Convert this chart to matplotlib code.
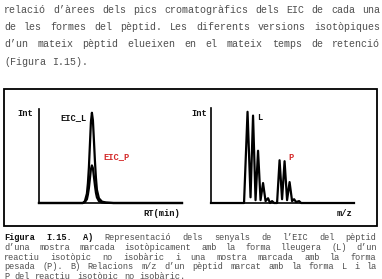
import matplotlib
matplotlib.use('Agg')
import matplotlib.pyplot as plt
from matplotlib.patches import Rectangle

W, H = 382, 279
FONT = 'Liberation Mono'
TEXT_COLOR = '#4e4e4e'
RED = '#d42a2a'

# body paragraph above the figure
para_lines = [
    'relació d’àrees dels pics cromatogràfics dels EIC de cada una',
    'de les formes del pèptid. Les diferents versions isotòpiques',
    'd’un mateix pèptid elueixen en el mateix temps de retenció',
    '(Figura I.15).',
]

caption_lines = [
    'Figura I.15. A) Representació dels senyals de l’EIC del pèptid',
    'd’una mostra marcada isotòpicament amb la forma lleugera (L) d’un',
    'reactiu isotòpic no isobàric i una mostra marcada amb la forma',
    'pesada (P). B) Relacions m/z d’un pèptid marcat amb la forma L i la',
    'P del reactiu isotòpic no isobàric.',
]
caption_bold_words = 3  # "Figura", "I.15.", "A)"

# A) extracted ion chromatograms
rt = [0.0, 2.6, 3.07, 3.21, 3.35, 3.42, 3.49, 3.56, 3.63, 3.70, 3.77, 3.84,
      3.91, 3.98, 4.05, 4.19, 4.40, 4.68, 5.2, 10.0]
eic_l = [0, 0, 0, 2, 10, 21, 38, 62, 86, 96, 88, 67, 45, 27, 14, 5, 1.5, 0.5, 0, 0]
eic_p = [0, 0, 0, 1, 4, 9, 16, 26, 36, 40, 37, 28, 19, 11, 6, 2, 0.6, 0.2, 0, 0]

# B) mass spectrum (L and P isotopic clusters)
mz = [0.0, 23.1, 25.55, 27.65, 29.4, 31.15, 32.9, 34.65, 36.4, 38.15, 39.9,
      41.3, 42.7, 44.1, 46.2, 47.95, 49.7, 51.45, 53.2, 54.95, 56.7, 58.1,
      59.5, 61.6, 63.0, 100.0]
intensity = [0, 0, 96, 6, 92, 3, 55, 3, 21, 2, 5, 0, 2, 0, 0, 45, 4, 44, 3,
             22, 2, 4, 1, 2, 0, 0]

fig = plt.figure(figsize=(W / 100, H / 100), dpi=100)

# page overlay in pixel coordinates
page = fig.add_axes([0, 0, 1, 1])
page.set_xlim(0, W)
page.set_ylim(H, 0)
page.axis('off')


def justified(ax, line, y, x0, x1, size_pt, justify=True, bold_words=0):
    char_w = size_pt * 100 / 72 * 0.6
    words = line.split(' ')
    n_chars = sum(len(w) for w in words)
    if justify and len(words) > 1:
        gap = (x1 - x0 - n_chars * char_w) / (len(words) - 1)
    else:
        gap = char_w
    x = x0
    for i, w in enumerate(words):
        ax.text(x, y, w, fontsize=size_pt, family=FONT, color=TEXT_COLOR if i >= bold_words else '#111111',
                fontweight='bold' if i < bold_words else 'normal', ha='left', va='center')
        x += len(w) * char_w + gap


for i, line in enumerate(para_lines):
    justified(page, line, 10 + i * 17.2, 4, 380, 7.2, justify=i < len(para_lines) - 1)

for i, line in enumerate(caption_lines):
    justified(page, line, 238 + i * 9.6, 4, 377, 6.25,
              justify=i < len(caption_lines) - 1,
              bold_words=caption_bold_words if i == 0 else 0)

page.add_patch(Rectangle((4, 89), 373, 137, fill=False, ec='black', lw=1.3))


def frame_axes(left, right, base, top):
    ax = fig.add_axes([left / W, (H - base) / H, (right - left) / W, (base - top) / H])
    for s in ['top', 'right']:
        ax.spines[s].set_visible(False)
    for s in ['left', 'bottom']:
        ax.spines[s].set_linewidth(1.2)
    ax.set_xticks([])
    ax.set_yticks([])
    ax.set_ylim(0, 100)
    ax.patch.set_alpha(0)
    return ax


label_kw = dict(fontsize=6.3, family=FONT, fontweight='bold', va='center')

ax1 = frame_axes(39, 182, 203, 109)
ax1.set_xlim(0, 10)
ax1.plot(rt, eic_l, color='black', lw=1.6, clip_on=False)
ax1.plot(rt, eic_p, color='black', lw=1.6, clip_on=False)
page.text(17, 113, 'Int', color='#111111', **label_kw)
page.text(60, 118, 'EIC_L', color='#111111', **label_kw)
page.text(103, 157, 'EIC_P', color=RED, **label_kw)
page.text(143, 213, 'RT(min)', color='#111111', **label_kw)

ax2 = frame_axes(211, 354, 203, 108)
ax2.set_xlim(0, 100)
ax2.plot(mz, intensity, color='black', lw=1.6, clip_on=False)
page.text(191, 113, 'Int', color='#111111', **label_kw)
page.text(257, 117, 'L', color='#111111', **label_kw)
page.text(288, 157, 'P', color=RED, **label_kw)
page.text(337, 213, 'm/z', color='#111111', **label_kw)

fig.savefig('out.png', dpi=100)
